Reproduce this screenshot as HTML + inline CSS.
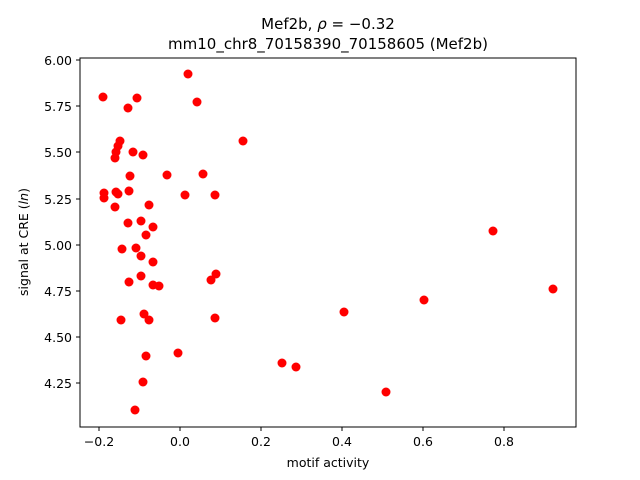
<!DOCTYPE html>
<html><head><style>body{margin:0;background:#fff}svg{display:block}text{font-family:"DejaVu Sans","Liberation Sans",sans-serif;fill:#000}</style></head><body>
<svg width="640" height="480" viewBox="0 0 640 480">
<rect x="80" y="58" width="496" height="369" fill="#fff" stroke="#000" stroke-width="1"/>
<g stroke="#000">
<line x1="99" y1="427" x2="99" y2="431"/><line x1="180" y1="427" x2="180" y2="431"/><line x1="261" y1="427" x2="261" y2="431"/><line x1="342" y1="427" x2="342" y2="431"/><line x1="423" y1="427" x2="423" y2="431"/><line x1="504" y1="427" x2="504" y2="431"/>
<line x1="76" y1="60" x2="80" y2="60"/><line x1="76" y1="106" x2="80" y2="106"/><line x1="76" y1="152" x2="80" y2="152"/><line x1="76" y1="199" x2="80" y2="199"/><line x1="76" y1="245" x2="80" y2="245"/><line x1="76" y1="291" x2="80" y2="291"/><line x1="76" y1="337" x2="80" y2="337"/><line x1="76" y1="383" x2="80" y2="383"/>
</g>
<g font-size="12.5" text-anchor="middle">
<text x="99" y="446">−0.2</text><text x="180" y="446">0.0</text><text x="261" y="446">0.2</text><text x="342" y="446">0.4</text><text x="423" y="446">0.6</text><text x="504" y="446">0.8</text>
</g>
<g font-size="12.5" text-anchor="end">
<text x="72" y="65">6.00</text><text x="72" y="111">5.75</text><text x="72" y="157">5.50</text><text x="72" y="204">5.25</text><text x="72" y="250">5.00</text><text x="72" y="296">4.75</text><text x="72" y="342">4.50</text><text x="72" y="388">4.25</text>
</g>
<text x="328" y="467" font-size="12.5" text-anchor="middle">motif activity</text>
<text transform="translate(28,242) rotate(-90)" font-size="12.5" text-anchor="middle">signal at CRE (<tspan font-style="italic">ln</tspan>)</text>
<text x="328" y="29" font-size="15" text-anchor="middle">Mef2b, <tspan font-style="italic">ρ</tspan> = −0.32</text>
<text x="328" y="49" font-size="15" text-anchor="middle">mm10_chr8_70158390_70158605 (Mef2b)</text>
<g fill="#f00">
<circle cx="103" cy="97" r="4.5"/><circle cx="188" cy="74" r="4.5"/><circle cx="197" cy="102" r="4.5"/><circle cx="128" cy="108" r="4.5"/><circle cx="137" cy="98" r="4.5"/><circle cx="243" cy="141" r="4.5"/><circle cx="120" cy="141" r="4.5"/><circle cx="118" cy="146" r="4.5"/><circle cx="116" cy="152" r="4.5"/><circle cx="115" cy="158" r="4.5"/><circle cx="133" cy="152" r="4.5"/><circle cx="143" cy="155" r="4.5"/><circle cx="104" cy="193" r="4.5"/><circle cx="104" cy="198" r="4.5"/><circle cx="116" cy="192" r="4.5"/><circle cx="118" cy="194" r="4.5"/><circle cx="115" cy="207" r="4.5"/><circle cx="130" cy="176" r="4.5"/><circle cx="129" cy="191" r="4.5"/><circle cx="167" cy="175" r="4.5"/><circle cx="203" cy="174" r="4.5"/><circle cx="185" cy="195" r="4.5"/><circle cx="215" cy="195" r="4.5"/><circle cx="149" cy="205" r="4.5"/><circle cx="141" cy="221" r="4.5"/><circle cx="128" cy="223" r="4.5"/><circle cx="153" cy="227" r="4.5"/><circle cx="146" cy="235" r="4.5"/><circle cx="122" cy="249" r="4.5"/><circle cx="136" cy="248" r="4.5"/><circle cx="141" cy="256" r="4.5"/><circle cx="153" cy="262" r="4.5"/><circle cx="141" cy="276" r="4.5"/><circle cx="211" cy="280" r="4.5"/><circle cx="216" cy="274" r="4.5"/><circle cx="153" cy="285" r="4.5"/><circle cx="159" cy="286" r="4.5"/><circle cx="129" cy="282" r="4.5"/><circle cx="493" cy="231" r="4.5"/><circle cx="424" cy="300" r="4.5"/><circle cx="553" cy="289" r="4.5"/><circle cx="144" cy="314" r="4.5"/><circle cx="149" cy="320" r="4.5"/><circle cx="121" cy="320" r="4.5"/><circle cx="344" cy="312" r="4.5"/><circle cx="215" cy="318" r="4.5"/><circle cx="178" cy="353" r="4.5"/><circle cx="146" cy="356" r="4.5"/><circle cx="282" cy="363" r="4.5"/><circle cx="296" cy="367" r="4.5"/><circle cx="386" cy="392" r="4.5"/><circle cx="143" cy="382" r="4.5"/><circle cx="135" cy="410" r="4.5"/>
</g>
</svg>
</body></html>
